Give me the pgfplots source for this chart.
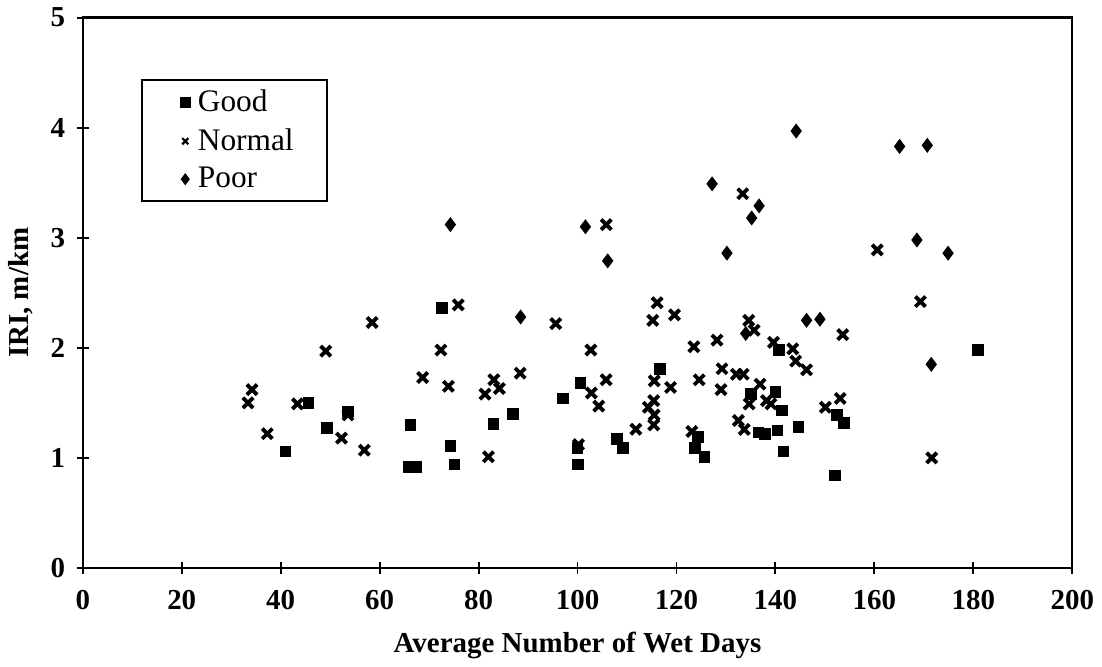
\documentclass[border=0pt]{standalone}
\usepackage{pgfplots}
\pgfplotsset{compat=1.18}
\usepackage{fontspec}
\setmainfont{Liberation Serif}

\begin{document}
\begin{tikzpicture}
\begin{axis}[
    width=14.42cm, height=8.02cm,
    scale only axis,
    xmin=0, xmax=200, ymin=0, ymax=5,
    xtick={0,20,...,200}, ytick={0,1,...,5},
    axis line style={line width=1pt},
    tick style={black, line width=0.8pt},
    tick align=center,
    major tick length=0.17cm,
    xtick pos=left, ytick pos=left,
    /pgf/number format/assume math mode=true,
    ticklabel style={font=\bfseries\large},
    xticklabel style={yshift=-0.12cm},
    yticklabel style={xshift=-0.05cm},
    xlabel={\textbf{Average Number of Wet Days}},
    ylabel={\textbf{IRI, m/km}},
    label style={font=\large},
    xlabel style={yshift=-0.08cm},
    ylabel style={yshift=0.02cm},
    legend style={
        at={(axis cs:11.7,4.44)}, anchor=north west,
        draw=black, line width=0.8pt,
        font=\fontsize{13}{15}\selectfont, row sep=1.5pt,
        inner xsep=12pt, inner ysep=2pt,
        legend cell align=left,
    },
    legend image code/.code={\path (-0.2cm,0) (0.1cm,0);\draw[#1, mark size=1.8pt, mark options={line width=0.9pt}] plot coordinates {(0cm,0cm)};},
]

% Good
\addplot[only marks, mark=square*, mark size=2.2pt, black] coordinates {
    (72.6,2.36) (45.6,1.50) (53.6,1.42) (49.3,1.27) (41.0,1.06)
    (66.2,1.30) (65.9,0.92) (67.4,0.92) (74.3,1.11) (75.1,0.94)
    (83.0,1.31) (87.0,1.40) (97.1,1.54) (100.6,1.68) (116.7,1.81)
    (140.0,1.60) (135.1,1.58) (141.3,1.43) (124.3,1.19) (123.7,1.09)
    (125.7,1.01) (136.6,1.23) (137.9,1.22) (140.4,1.25) (141.6,1.06)
    (144.7,1.28) (108.0,1.17) (109.2,1.09) (100.0,1.09) (100.1,0.94)
    (140.7,1.98) (180.9,1.98) (152.5,1.39) (153.9,1.32) (152.1,0.84)
};
\addlegendentry{Good}

% Normal
\addplot[only marks, mark=x, mark size=3pt, black, mark options={line width=1.6pt}] coordinates {
    (75.9,2.39) (58.5,2.23) (49.1,1.97) (72.4,1.98) (68.7,1.73)
    (73.9,1.65) (83.1,1.71) (84.2,1.63) (81.3,1.58) (34.2,1.62)
    (33.4,1.50) (43.4,1.49) (53.6,1.39) (37.3,1.22) (52.3,1.18)
    (56.9,1.07) (82.0,1.01) (133.4,3.40) (105.8,3.12) (95.6,2.22)
    (116.1,2.41) (115.2,2.25) (119.6,2.30) (134.6,2.25) (135.7,2.16)
    (128.2,2.07) (123.5,2.01) (139.6,2.05) (143.5,1.99) (144.1,1.88)
    (102.7,1.98) (88.4,1.77) (105.8,1.71) (102.8,1.59) (104.3,1.47)
    (115.5,1.70) (118.8,1.64) (124.6,1.71) (129.2,1.81) (129.0,1.62)
    (132.1,1.76) (133.5,1.76) (136.9,1.67) (134.7,1.49) (138.2,1.52)
    (139.1,1.49) (115.4,1.52) (114.3,1.46) (115.5,1.39) (115.4,1.30)
    (111.8,1.26) (123.1,1.24) (132.5,1.34) (133.7,1.26) (100.2,1.12)
    (160.6,2.89) (169.3,2.42) (153.6,2.12) (146.3,1.80) (153.1,1.54)
    (150.1,1.46) (171.6,1.00)
};
\addlegendentry{Normal}

% Poor
\addplot[only marks, mark=diamond*, mark size=2.8pt, black] coordinates {
    (74.3,3.12) (88.5,2.28) (127.2,3.49) (136.7,3.29) (135.2,3.18)
    (130.2,2.86) (101.6,3.10) (106.1,2.79) (134.0,2.13) (144.2,3.97)
    (165.1,3.83) (170.7,3.84) (168.6,2.98) (174.9,2.86) (146.3,2.25)
    (149.0,2.26) (171.5,1.85)
};
\addlegendentry{Poor}

\end{axis}
\end{tikzpicture}
\end{document}
